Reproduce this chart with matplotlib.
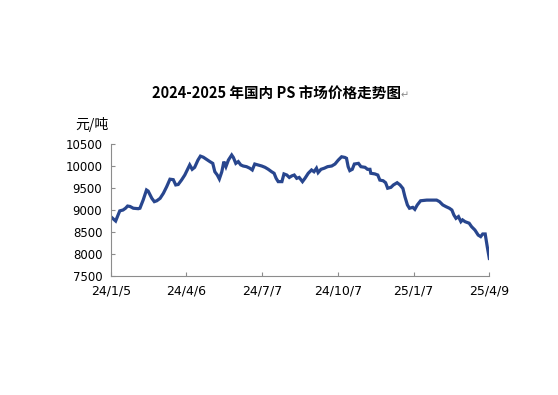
# 2024-2025 domestic PS price trend
import numpy as np
import matplotlib
matplotlib.use('Agg')
import matplotlib.pyplot as plt

plt.rcParams['font.family'] = ['DejaVu Sans', 'Noto Sans CJK SC']

start_date = np.datetime64('2024-01-05')
# days after 2024-01-05, price (yuan/ton)
days = [0, 3, 6, 8.5, 11, 15, 18, 20.5, 23.5, 27.5, 33.5, 35.5, 39.5, 43.5, 45.5, 50, 53, 56,
        60, 64, 68, 72, 76, 79, 82, 86, 90, 94, 96, 99, 102, 106, 109, 112.5, 116.5, 120.5,
        124, 126.5, 129.5, 132, 135, 137.5, 140, 143, 147, 149, 152, 155, 158, 161, 165, 169,
        172, 175, 179, 183.5, 187.5, 191.5, 195.5, 198.5, 201, 203.5, 208, 210.5, 214, 217,
        220, 223, 226, 229, 233, 236, 240, 244, 247, 250, 252, 255.5, 259.5, 263.5, 268.5,
        272.5, 276.5, 280.5, 284.5, 286.5, 288.5, 290.5, 293.5, 296, 301, 304, 309, 312, 315,
        316, 321, 324.5, 327, 331, 334, 336.5, 340.5, 343.5, 348, 351.5, 355, 357.5, 360.5,
        363, 367, 369.5, 372.5, 376.5, 384, 396, 399.5, 403.5, 407.5, 411.5, 414.5, 417,
        419.5, 422.5, 425.5, 427.5, 430.5, 435.5, 438.5, 442.5, 446.5, 449.5, 452, 455,
        457.5, 460]
prices = [8850, 8800, 8750, 8865, 8980, 9000, 9040, 9090, 9080, 9040, 9030, 9040, 9230, 9455,
          9430, 9265, 9190, 9210, 9265, 9380, 9530, 9700, 9690, 9570, 9580, 9680, 9795, 9950,
          10025, 9925, 9970, 10135, 10225, 10200, 10150, 10100, 10060, 9870, 9795, 9705, 9870,
          10100, 9985, 10135, 10250, 10195, 10060, 10100, 10025, 10000, 9985, 9950, 9910,
          10045, 10025, 10000, 9970, 9925, 9870, 9835, 9720, 9645, 9645, 9820, 9795, 9740,
          9775, 9795, 9720, 9740, 9645, 9720, 9835, 9910, 9870, 9950, 9850, 9925, 9950, 9985,
          10000, 10045, 10135, 10210, 10195, 10175, 9985, 9895, 9925, 10045, 10060, 9985, 9970,
          9925, 9925, 9835, 9820, 9795, 9680, 9665, 9620, 9495, 9515, 9570, 9620, 9570, 9490,
          9300, 9115, 9040, 9060, 9015, 9115, 9210, 9225, 9225, 9190, 9115, 9075, 9040, 9000,
          8885, 8810, 8850, 8735, 8775, 8735, 8700, 8620, 8545, 8430, 8395, 8455, 8455, 8165,
          7900]
tick_days = [0, 92, 184, 276, 368, 460]
tick_labels = ['24/1/5', '24/4/6', '24/7/7', '24/10/7', '25/1/7', '25/4/9']

dates = start_date + np.array([np.timedelta64(int(round(d * 24)), 'h') for d in days])
tick_dates = start_date + np.array([np.timedelta64(d, 'D') for d in tick_days])

fig = plt.figure(figsize=(5.58, 3.95), dpi=100)
ax = fig.add_axes([0.1984, 0.3013, 0.6785, 0.3341])

ax.plot(dates, prices, color='#28468e', linewidth=2.3, solid_joinstyle='miter')

ax.set_ylim(7500, 10500)
ax.set_yticks(np.arange(7500, 10501, 500))
ax.set_xlim(tick_dates[0], tick_dates[-1])
ax.set_xticks(tick_dates)
ax.set_xticklabels(tick_labels)

for side in ['top', 'right']:
    ax.spines[side].set_visible(False)
for side in ['left', 'bottom']:
    ax.spines[side].set_color('#8c8c8c')
    ax.spines[side].set_linewidth(0.8)
ax.tick_params(direction='in', length=3, width=0.8, color='#8c8c8c')
ax.tick_params(axis='y', pad=6, labelsize=8.5)
ax.tick_params(axis='x', pad=6, labelsize=9)

fig.text(0.195, 0.685, '元/吨', fontsize=10, ha='right', va='center',
         family=['Noto Sans CJK SC', 'DejaVu Sans'])
fig.text(0.495, 0.762, '2024-2025 年国内 PS 市场价格走势图', fontsize=10.5,
         fontweight='bold', ha='center', va='center',
         family=['Noto Sans CJK SC', 'DejaVu Sans'])
fig.text(0.718, 0.758, '↵', fontsize=7, color='#888888', ha='left', va='center',
         family=['DejaVu Sans'])

fig.savefig('out.png', dpi=100, facecolor='white')
